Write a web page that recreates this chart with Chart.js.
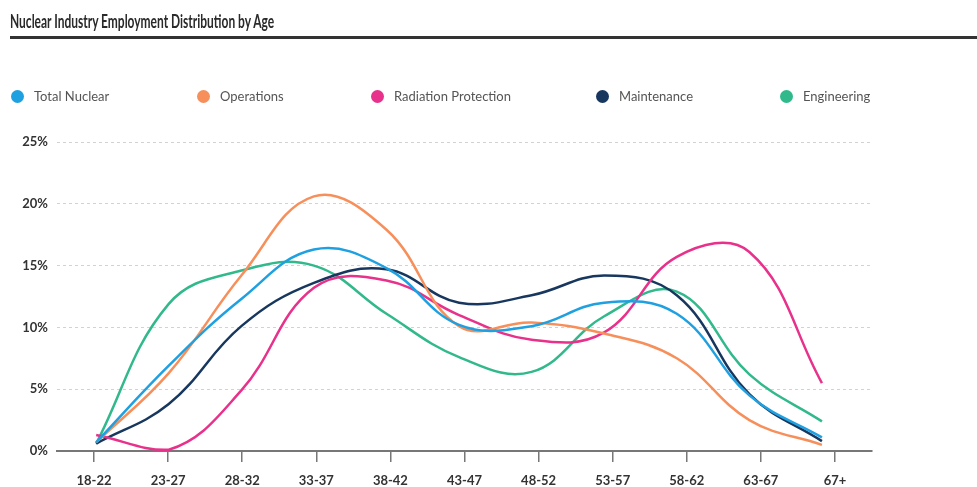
<!DOCTYPE html>
<html>
<head>
<meta charset="utf-8">
<title>Nuclear Industry Employment Distribution by Age</title>
<script src="https://cdn.jsdelivr.net/npm/chart.js@4"></script>
<style>
  html, body { margin: 0; padding: 0; background: #fff; }
  #wrap { position: relative; width: 977px; height: 487px; overflow: hidden; font-family: Lato, "Open Sans", sans-serif; }
  #title {
    position: absolute; left: 10px; top: 9px;
    font-size: 19px; font-weight: 700; color: #2a2a2a; white-space: nowrap;
    transform: scaleX(0.63); transform-origin: left top;
  }
  #rule { position: absolute; left: 10px; right: 0; top: 36px; height: 3px; background: #333; }
  #legend { position: absolute; left: 0; top: 88px; height: 16px; width: 977px; }
  .item { position: absolute; top: 0; display: flex; align-items: center; font-size: 13px; color: #555; white-space: nowrap; }
  .dot { width: 13px; height: 13px; border-radius: 50%; margin-right: 10px; }
  #chart { position: absolute; left: 0; top: 0; }
</style>
</head>
<body>
<div id="wrap">
  <canvas id="chart" width="977" height="487"></canvas>
  <div id="title">Nuclear Industry Employment Distribution by Age</div>
  <div id="rule"></div>
  <div id="legend"></div>
</div>
<script>
// Tranches d'âge et parts (%) par métier
const ageGroups = ["18-22", "23-27", "28-32", "33-37", "38-42", "43-47", "48-52", "53-57", "58-62", "63-67", "67+"];
const totalNuclear        = [0.7, 6.9, 12.3, 16.3, 14.8, 10.2, 10.1, 12.0, 11.1, 4.5, 1.1];
const operations          = [0.7, 6.3, 14.2, 20.6, 17.9, 10.1, 10.4, 9.5, 7.5, 2.5, 0.5];
const radiationProtection = [1.3, 0.1, 4.9, 13.2, 13.8, 11.0, 9.0, 9.6, 15.7, 16.1, 5.5];
const maintenance         = [0.6, 3.8, 10.1, 13.6, 14.7, 12.0, 12.6, 14.2, 12.6, 4.6, 0.8];
const engineering         = [0.6, 11.9, 14.6, 15.0, 11.1, 7.6, 6.4, 10.9, 12.9, 6.2, 2.4];
const yTicks = [0, 5, 10, 15, 20, 25];

const seriesNames = ["Total Nuclear", "Operations", "Radiation Protection", "Maintenance", "Engineering"];
const seriesData = [totalNuclear, operations, radiationProtection, maintenance, engineering];
const colors = ["#1fa0e0", "#f78f5b", "#e8318b", "#17375e", "#31b98b"];
const legendLeft = [11, 197, 371, 596, 780];

const ctx = document.getElementById("chart");
const chart = new Chart(ctx, {
  type: "line",
  data: {
    labels: ageGroups,
    datasets: seriesNames.map((name, i) => ({
      label: name,
      // les courbes sont posées sur un axe linéaire caché (index de tranche)
      data: seriesData[i].map((v, k) => ({ x: k, y: v })),
      xAxisID: "xl",
      borderColor: colors[i],
      backgroundColor: colors[i],
      borderWidth: 2.5,
      tension: 0.4,
      pointRadius: 0,
      fill: false
    }))
  },
  options: {
    responsive: false,
    animation: false,
    parsing: false,
    layout: { padding: { top: 142, right: 105, left: 0, bottom: 0 } },
    plugins: {
      legend: { display: false },
      tooltip: { enabled: false }
    },
    scales: {
      x: {
        type: "category",
        offset: true,
        grid: {
          display: true,
          drawOnChartArea: false,
          drawTicks: true,
          tickLength: 11,
          color: "#777",
          lineWidth: 1.5
        },
        border: { display: true, color: "#777", width: 2 },
        ticks: {
          padding: 11,
          color: "#333",
          font: { family: "Lato", size: 13, weight: "bold" }
        },
        afterFit: (scale) => { scale.height = 36; }
      },
      xl: {
        type: "linear",
        display: false,
        min: -0.54,
        max: 10.69
      },
      y: {
        min: 0,
        max: 25,
        afterBuildTicks: (scale) => { scale.ticks = yTicks.map(v => ({ value: v })); },
        grid: {
          drawTicks: false,
          color: (c) => c.tick && c.tick.value === 0 ? "rgba(0,0,0,0)" : "#d2d2d2",
          lineWidth: 1
        },
        border: { display: false, dash: [3, 3] },
        ticks: {
          padding: 9,
          color: "#333",
          font: { family: "Lato", size: 13, weight: "bold" },
          callback: (v) => v + "%"
        },
        afterFit: (scale) => { scale.width = 57; }
      }
    }
  }
});

// Légende HTML
const legend = document.getElementById("legend");
chart.data.datasets.forEach((ds, i) => {
  const item = document.createElement("div");
  item.className = "item";
  item.style.left = legendLeft[i] + "px";
  const dot = document.createElement("span");
  dot.className = "dot";
  dot.style.background = ds.borderColor;
  const txt = document.createElement("span");
  txt.textContent = ds.label;
  item.appendChild(dot);
  item.appendChild(txt);
  legend.appendChild(item);
});
</script>
</body>
</html>
